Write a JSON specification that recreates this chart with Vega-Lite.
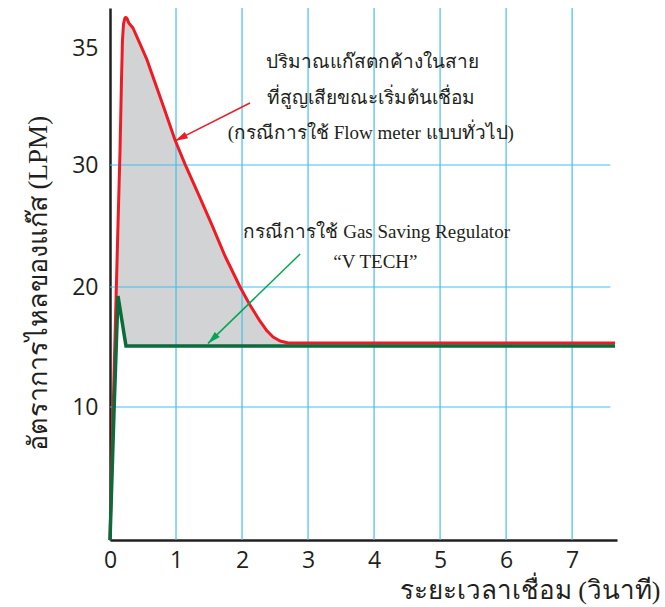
{
  "$schema": "https://vega.github.io/schema/vega-lite/v6.json",
  "width": 507,
  "height": 532,
  "autosize": {"type": "none"},
  "padding": {"left": 110, "top": 8, "right": 48, "bottom": 67},
  "background": "white",
  "config": {
    "view": {"stroke": null},
    "axis": {
      "grid": false,
      "ticks": false,
      "labelFlush": false,
      "domainColor": "#231f20",
      "domainWidth": 2.5,
      "labelFont": "Open Sans",
      "labelFontSize": 23,
      "labelColor": "#231f20",
      "titleFont": "Liberation Serif",
      "titleFontSize": 26,
      "titleFontWeight": "normal",
      "titleColor": "#231f20"
    }
  },
  "datasets": {
    "flow": [
      {"t": 0, "flowmeter": 0, "vtech": 0},
      {"t": 0.03, "flowmeter": 6.39, "vtech": 4.77},
      {"t": 0.061, "flowmeter": 12.67, "vtech": 9.7},
      {"t": 0.091, "flowmeter": 18.92, "vtech": 14.48},
      {"t": 0.121, "flowmeter": 25.08, "vtech": 19.25},
      {"t": 0.152, "flowmeter": 30.64, "vtech": 18.18},
      {"t": 0.174, "flowmeter": 33.63, "vtech": 17.42},
      {"t": 0.189, "flowmeter": 35.34, "vtech": 16.91},
      {"t": 0.205, "flowmeter": 36.03, "vtech": 16.36},
      {"t": 0.227, "flowmeter": 36.28, "vtech": 15.6},
      {"t": 0.242, "flowmeter": 36.3, "vtech": 15.08},
      {"t": 0.258, "flowmeter": 36.25, "vtech": 15.08},
      {"t": 0.288, "flowmeter": 36.05, "vtech": 15.08},
      {"t": 0.348, "flowmeter": 35.85, "vtech": 15.08},
      {"t": 0.455, "flowmeter": 35.18, "vtech": 15.08},
      {"t": 0.561, "flowmeter": 34.49, "vtech": 15.08},
      {"t": 0.652, "flowmeter": 33.76, "vtech": 15.08},
      {"t": 0.818, "flowmeter": 32.44, "vtech": 15.08},
      {"t": 0.985, "flowmeter": 31.07, "vtech": 15.08},
      {"t": 1.136, "flowmeter": 30.04, "vtech": 15.08},
      {"t": 1.364, "flowmeter": 27.3, "vtech": 15.08},
      {"t": 1.545, "flowmeter": 25.08, "vtech": 15.08},
      {"t": 1.742, "flowmeter": 22.54, "vtech": 15.08},
      {"t": 1.97, "flowmeter": 20.0, "vtech": 15.08},
      {"t": 2.12, "flowmeter": 18.5, "vtech": 15.08},
      {"t": 2.27, "flowmeter": 17.17, "vtech": 15.08},
      {"t": 2.38, "flowmeter": 16.33, "vtech": 15.08},
      {"t": 2.47, "flowmeter": 15.83, "vtech": 15.08},
      {"t": 2.576, "flowmeter": 15.5, "vtech": 15.08},
      {"t": 2.7, "flowmeter": 15.33, "vtech": 15.08},
      {"t": 7.65, "flowmeter": 15.33, "vtech": 15.08}
    ],
    "gridv": [{"g": 1}, {"g": 2}, {"g": 3}, {"g": 4}, {"g": 5}, {"g": 6}, {"g": 7}],
    "gridh": [{"g": 10}, {"g": 20}, {"g": 30}],
    "arrows": [
      {"case": "flowmeter", "t0": 2.12, "v0": 32.65, "t1": 0.985, "v1": 31.03},
      {"case": "vtech", "t0": 2.88, "v0": 22.7, "t1": 1.485, "v1": 15.3}
    ],
    "notes": [
      {"case": "flowmeter", "t": 3.97, "v": 34.4, "text": "ปริมาณแก๊สตกค้างในสาย"},
      {"case": "flowmeter", "t": 3.96, "v": 32.86, "text": "ที่สูญเสียขณะเริ่มต้นเชื่อม"},
      {"case": "flowmeter", "t": 3.95, "v": 31.37, "text": "(กรณีการใช้ Flow meter แบบทั่วไป)"},
      {"case": "vtech", "t": 4.04, "v": 24.5, "text": "กรณีการใช้ Gas Saving Regulator"},
      {"case": "vtech", "t": 4.02, "v": 22.05, "text": "“V TECH”"}
    ]
  },
  "layer": [
    {
      "data": {"name": "flow"},
      "mark": {"type": "area", "color": "#d1d3d4", "opacity": 1},
      "encoding": {
        "x": {"field": "t", "type": "quantitative",
              "scale": {"domain": [0, 7.68], "nice": false, "zero": false},
              "axis": {"values": [0, 1, 2, 3, 4, 5, 6, 7], "format": "d", "labelPadding": 9, "labelBaseline": "top",
                       "title": "ระยะเวลาเชื่อม (วินาที)", "titleAnchor": "end", "titleAlign": "right",
                       "titleX": 550, "titleY": 58, "titleBaseline": "alphabetic"}},
        "y": {"field": "flowmeter", "type": "quantitative",
              "scale": {"domain": [0, 10, 20, 30, 35, 36.7], "range": [532, 399, 279, 157, 40, 0], "nice": false, "zero": false},
              "axis": {"values": [10, 20, 30, 35], "format": "d", "labelPadding": 12,
                       "title": "อัตราการไหลของแก๊ส (LPM)", "titleFontSize": 27, "titleAngle": 270, "titleX": -72, "titleY": 275,
                       "titleAlign": "center", "titleBaseline": "middle"}},
        "y2": {"field": "vtech"}
      }
    },
    {
      "data": {"name": "gridv"},
      "mark": {"type": "rule", "color": "#45bdf0", "strokeWidth": 1.2},
      "encoding": {
        "x": {"field": "g", "type": "quantitative", "scale": {"domain": [0, 7.68], "nice": false, "zero": false}}
      }
    },
    {
      "data": {"name": "gridh"},
      "mark": {"type": "rule", "color": "#45bdf0", "strokeWidth": 1.2},
      "encoding": {
        "y": {"field": "g", "type": "quantitative",
              "scale": {"domain": [0, 10, 20, 30, 35, 36.7], "range": [532, 399, 279, 157, 40, 0], "nice": false, "zero": false}},
        "x": {"datum": 0, "type": "quantitative", "scale": {"domain": [0, 7.68], "nice": false, "zero": false}},
        "x2": {"datum": 7.58}
      }
    },
    {
      "data": {"name": "flow"},
      "mark": {"type": "line", "color": "#ed1c24", "strokeWidth": 3, "strokeJoin": "round"},
      "encoding": {
        "x": {"field": "t", "type": "quantitative", "scale": {"domain": [0, 7.68], "nice": false, "zero": false}},
        "y": {"field": "flowmeter", "type": "quantitative",
              "scale": {"domain": [0, 10, 20, 30, 35, 36.7], "range": [532, 399, 279, 157, 40, 0], "nice": false, "zero": false}}
      }
    },
    {
      "data": {"name": "flow"},
      "mark": {"type": "line", "color": "#0b6b3a", "strokeWidth": 3.5, "strokeJoin": "miter"},
      "encoding": {
        "x": {"field": "t", "type": "quantitative", "scale": {"domain": [0, 7.68], "nice": false, "zero": false}},
        "y": {"field": "vtech", "type": "quantitative",
              "scale": {"domain": [0, 10, 20, 30, 35, 36.7], "range": [532, 399, 279, 157, 40, 0], "nice": false, "zero": false}}
      }
    },
    {
      "data": {"name": "arrows"},
      "transform": [{"filter": "datum.case === 'flowmeter'"}],
      "mark": {"type": "rule", "color": "#ed1c24", "strokeWidth": 1.5},
      "encoding": {
        "x": {"field": "t0", "type": "quantitative", "scale": {"domain": [0, 7.68], "nice": false, "zero": false}},
        "y": {"field": "v0", "type": "quantitative",
              "scale": {"domain": [0, 10, 20, 30, 35, 36.7], "range": [532, 399, 279, 157, 40, 0], "nice": false, "zero": false}},
        "x2": {"field": "t1"},
        "y2": {"field": "v1"}
      }
    },
    {
      "data": {"name": "arrows"},
      "transform": [{"filter": "datum.case === 'vtech'"}],
      "mark": {"type": "rule", "color": "#00a651", "strokeWidth": 1.5},
      "encoding": {
        "x": {"field": "t0", "type": "quantitative", "scale": {"domain": [0, 7.68], "nice": false, "zero": false}},
        "y": {"field": "v0", "type": "quantitative",
              "scale": {"domain": [0, 10, 20, 30, 35, 36.7], "range": [532, 399, 279, 157, 40, 0], "nice": false, "zero": false}},
        "x2": {"field": "t1"},
        "y2": {"field": "v1"}
      }
    },
    {
      "data": {"name": "arrows"},
      "transform": [{"filter": "datum.case === 'flowmeter'"}],
      "mark": {"type": "point", "shape": "M0,0L0.45,1.6L-0.45,1.6Z", "size": 256, "angle": 243, "filled": true, "color": "#ed1c24", "opacity": 1},
      "encoding": {
        "x": {"field": "t1", "type": "quantitative", "scale": {"domain": [0, 7.68], "nice": false, "zero": false}},
        "y": {"field": "v1", "type": "quantitative",
              "scale": {"domain": [0, 10, 20, 30, 35, 36.7], "range": [532, 399, 279, 157, 40, 0], "nice": false, "zero": false}}
      }
    },
    {
      "data": {"name": "arrows"},
      "transform": [{"filter": "datum.case === 'vtech'"}],
      "mark": {"type": "point", "shape": "M0,0L0.45,1.6L-0.45,1.6Z", "size": 256, "angle": 226, "filled": true, "color": "#00a651", "opacity": 1},
      "encoding": {
        "x": {"field": "t1", "type": "quantitative", "scale": {"domain": [0, 7.68], "nice": false, "zero": false}},
        "y": {"field": "v1", "type": "quantitative",
              "scale": {"domain": [0, 10, 20, 30, 35, 36.7], "range": [532, 399, 279, 157, 40, 0], "nice": false, "zero": false}}
      }
    },
    {
      "data": {"name": "notes"},
      "mark": {"type": "text", "font": "Liberation Serif", "fontSize": 19, "color": "#231f20", "align": "center", "baseline": "middle"},
      "encoding": {
        "x": {"field": "t", "type": "quantitative", "scale": {"domain": [0, 7.68], "nice": false, "zero": false}},
        "y": {"field": "v", "type": "quantitative",
              "scale": {"domain": [0, 10, 20, 30, 35, 36.7], "range": [532, 399, 279, 157, 40, 0], "nice": false, "zero": false}},
        "text": {"field": "text"}
      }
    }
  ]
}
